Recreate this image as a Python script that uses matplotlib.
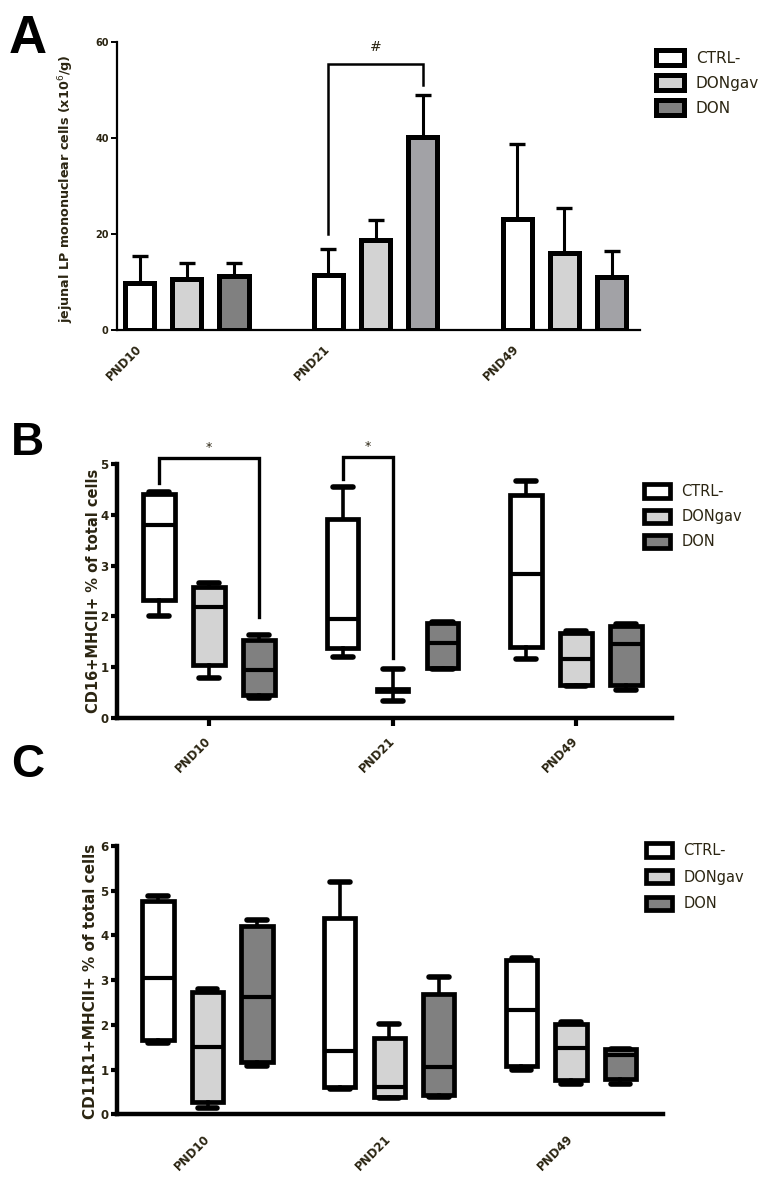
import matplotlib
matplotlib.use("Agg")
import matplotlib.pyplot as plt
from matplotlib.patches import Patch
import numpy as np

# ---------------- data ----------------
groups = ["PND10", "PND21", "PND49"]
treatments = ["CTRL-", "DONgav", "DON"]

# Panel A: means and upper error (SEM/SD) per treatment across groups
A_ctrl = [9.8, 11.5, 23.1]
A_dongav = [10.6, 18.75, 16.1]
A_don = [11.25, 40.2, 11.0]
A_ctrl_err = [5.6, 5.3, 15.65]
A_dongav_err = [3.4, 4.15, 9.4]
A_don_err = [2.75, 8.8, 5.5]

# Panel B: (whislo, q1, med, q3, whishi) per group, per treatment
B_ctrl = [(2.00, 2.32, 3.81, 4.41, 4.45), (1.19, 1.37, 1.95, 3.92, 4.56), (1.16, 1.39, 2.83, 4.39, 4.67)]
B_dongav = [(0.78, 1.03, 2.18, 2.58, 2.66), (0.32, 0.53, 0.55, 0.57, 0.97), (0.63, 0.65, 1.16, 1.68, 1.72)]
B_don = [(0.39, 0.45, 0.95, 1.53, 1.64), (0.97, 0.98, 1.47, 1.87, 1.88), (0.55, 0.65, 1.45, 1.81, 1.85)]

# Panel C
C_ctrl = [(1.59, 1.66, 3.05, 4.76, 4.88), (0.57, 0.60, 1.42, 4.40, 5.20), (0.99, 1.07, 2.33, 3.45, 3.49)]
C_dongav = [(0.15, 0.28, 1.50, 2.73, 2.80), (0.37, 0.39, 0.60, 1.70, 2.02), (0.68, 0.77, 1.48, 2.03, 2.07)]
C_don = [(1.08, 1.18, 2.63, 4.22, 4.35), (0.38, 0.43, 1.05, 2.70, 3.06), (0.68, 0.78, 1.33, 1.45, 1.47)]

# significance brackets: (group, treat_left, treat_right, y_left, y_top, y_right, symbol)
A_sig = [(1, 0, 2, 20.0, 55.4, 51.0, "#")]
B_sig = [(0, 0, 2, 4.63, 5.12, 1.99, "*"), (1, 0, 1, 4.71, 5.15, 1.18, "*")]

# ---------------- style ----------------
W, H = 769, 1187
fig = plt.figure(figsize=(W / 100, H / 100), dpi=100)
TXT = "#2b2512"
FILL = ["#ffffff", "#d3d3d3", "#808080"]
A_DON_FILL = ["#808080", "#a2a2a6", "#a2a2a6"]


def px_axes(l, t, r, b):
    return fig.add_axes([l / W, 1 - b / H, (r - l) / W, (b - t) / H])


def style_axes(ax, lw):
    for s in ("top", "right"):
        ax.spines[s].set_visible(False)
    for s in ("left", "bottom"):
        ax.spines[s].set_linewidth(lw)
        ax.spines[s].set_color("black")


# ---------------- Panel A ----------------
axA = px_axes(117, 42, 640, 330)
style_axes(axA, 1.6)
A_means = [A_ctrl, A_dongav, A_don]
A_errs = [A_ctrl_err, A_dongav_err, A_don_err]
for j in range(3):
    xs = np.arange(3) * 4 + j
    cols = A_DON_FILL if j == 2 else [FILL[j]] * 3
    axA.errorbar(xs, A_means[j], yerr=[np.zeros(3), A_errs[j]], fmt="none",
                 ecolor="black", elinewidth=2.2, capsize=6, capthick=2.4, zorder=2)
    axA.bar(xs, A_means[j], width=0.62, color=cols, edgecolor="black",
            linewidth=3.6, zorder=3)
axA.set_xlim(-0.477, 10.6)
axA.set_ylim(0, 60)
axA.set_yticks([0, 20, 40, 60])
axA.set_yticklabels(["0", "20", "40", "60"], fontsize=7, fontweight="bold", color=TXT)
axA.tick_params(axis="y", length=4, width=1.4, pad=2)
axA.set_xticks(np.arange(3) * 4)
axA.set_xticklabels(groups, rotation=45, ha="right", va="center",
                    rotation_mode="anchor", fontsize=8.5, fontweight="bold", color=TXT)
axA.tick_params(axis="x", length=0, pad=12)
for g, tl, tr, yl, yt, yr, sym in A_sig:
    xl, xr = g * 4 + tl, g * 4 + tr
    axA.plot([xl, xl, xr, xr], [yl, yt, yt, yr], color="black", lw=1.8,
             clip_on=False, solid_joinstyle="miter")
    axA.text((xl + xr) / 2, yt + 2.2, sym, ha="center", va="bottom", fontsize=10,
             color=TXT)
axA.legend(handles=[Patch(facecolor=FILL[k], edgecolor="black", linewidth=3.6,
                          label=treatments[k]) for k in range(3)],
           loc="upper left", bbox_to_anchor=(656 / W, 1 - 50 / H),
           bbox_transform=fig.transFigure, frameon=False, handlelength=1.85,
           handleheight=1.1, handletextpad=0.75, labelspacing=0.62, borderpad=0,
           borderaxespad=0, prop=dict(family="DejaVu Sans", size=11))
for t in axA.get_legend().get_texts():
    t.set_color(TXT)
fig.text(66 / W, 1 - 189 / H, "jejunal LP mononuclear cells (x10$^{6}$/g)",
         rotation=90, ha="center", va="center", fontsize=9.2, fontweight="bold",
         color=TXT)


# ---------------- box panels ----------------
G = 3.67


def box_panel(ax, data, ylim, yticks, tick_len, pad):
    style_axes(ax, 3.2)
    for j in range(3):
        stats = []
        for g in range(3):
            lo, q1, med, q3, hi = data[j][g]
            stats.append(dict(whislo=lo, q1=q1, med=med, q3=q3, whishi=hi, fliers=[]))
        pos = [g * G + (j - 1) for g in range(3)]
        ax.bxp(stats, positions=pos, widths=0.63, patch_artist=True, showfliers=False,
               capwidths=0.4, manage_ticks=False,
               boxprops=dict(facecolor=FILL[j], edgecolor="black", linewidth=3.4),
               medianprops=dict(color="black", linewidth=3.0, solid_capstyle="butt"),
               whiskerprops=dict(color="black", linewidth=2.6),
               capprops=dict(color="black", linewidth=4.0, solid_capstyle="round"))
    ax.set_ylim(*ylim)
    ax.set_yticks(yticks)
    ax.set_yticklabels([str(v) for v in yticks], fontsize=8.5, fontweight="bold", color=TXT)
    ax.tick_params(axis="y", length=4, width=3.0, pad=2)
    ax.set_xticks([g * G for g in range(3)])
    ax.set_xticklabels(groups, rotation=45, ha="right", va="center",
                       rotation_mode="anchor", fontsize=8.5, fontweight="bold", color=TXT)
    ax.tick_params(axis="x", length=tick_len, width=3.0, pad=pad)


axB = px_axes(117, 464.3, 672, 717.7)
box_panel(axB, [B_ctrl, B_dongav, B_don], (0, 5), [0, 1, 2, 3, 4, 5], 6, 9)
axB.set_xlim(-1.84, 9.26)
for g, tl, tr, yl, yt, yr, sym in B_sig:
    xl, xr = g * G + (tl - 1), g * G + (tr - 1)
    axB.plot([xl, xl, xr, xr], [yl, yt, yt, yr], color="black", lw=2.4,
             clip_on=False, solid_joinstyle="miter")
    axB.text((xl + xr) / 2, yt + 0.08, sym, ha="center", va="bottom", fontsize=9,
             color=TXT)
axB.legend(handles=[Patch(facecolor=FILL[k], edgecolor="black", linewidth=3.4,
                          label=treatments[k]) for k in range(3)],
           loc="upper left", bbox_to_anchor=(644 / W, 1 - 484 / H),
           bbox_transform=fig.transFigure, frameon=False, handlelength=1.75,
           handleheight=1.0, handletextpad=0.8, labelspacing=0.7, borderpad=0,
           borderaxespad=0, prop=dict(family="DejaVu Sans", size=10.5))
for t in axB.get_legend().get_texts():
    t.set_color(TXT)
fig.text(94 / W, 1 - 591 / H, "CD16+MHCII+ % of total cells", rotation=90,
         ha="center", va="center", fontsize=10.5, fontweight="bold", color=TXT)

axC = px_axes(117, 846, 663, 1114.3)
box_panel(axC, [C_ctrl, C_dongav, C_don], (0, 6), [0, 1, 2, 3, 4, 5, 6], 0, 16)
axC.set_xlim(-1.83, 9.2)
axC.legend(handles=[Patch(facecolor=FILL[k], edgecolor="black", linewidth=3.4,
                          label=treatments[k]) for k in range(3)],
           loc="upper left", bbox_to_anchor=(646 / W, 1 - 843 / H),
           bbox_transform=fig.transFigure, frameon=False, handlelength=1.75,
           handleheight=1.05, handletextpad=0.8, labelspacing=0.8, borderpad=0,
           borderaxespad=0, prop=dict(family="DejaVu Sans", size=10.5))
for t in axC.get_legend().get_texts():
    t.set_color(TXT)
fig.text(91 / W, 1 - 981 / H, "CD11R1+MHCII+ % of total cells", rotation=90,
         ha="center", va="center", fontsize=11, fontweight="bold", color=TXT)

# panel letters
fig.text(9 / W, 1 - 53 / H, "A", fontsize=38, fontweight="bold",
         family="Liberation Sans", va="baseline", ha="left")
fig.text(11 / W, 1 - 455 / H, "B", fontsize=33, fontweight="bold",
         family="Liberation Sans", va="baseline", ha="left")
fig.text(11 / W, 1 - 777 / H, "C", fontsize=33, fontweight="bold",
         family="Liberation Sans", va="baseline", ha="left")

fig.savefig("out.png", dpi=100)
